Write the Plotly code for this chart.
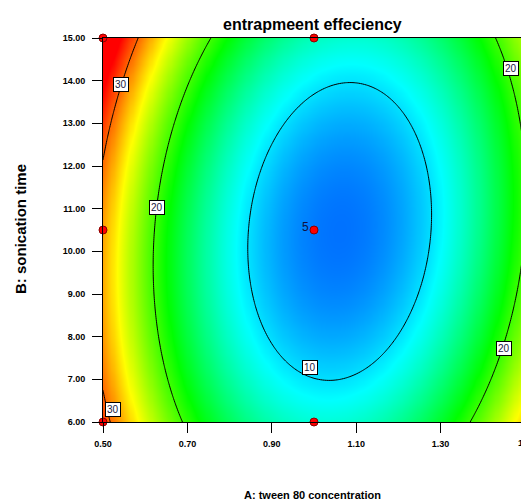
import numpy as np
import plotly.graph_objects as go

# Factor A: tween 80 concentration (0.50 - 1.50), factor B: sonication time (6 - 15)
a_low, a_high = 0.5, 1.5
b_low, b_high = 6.0, 15.0

# Quadratic response-surface coefficients (coded units)
coef_names = ["Intercept", "A", "B", "AB", "A^2", "B^2"]
coef_vals = [7.049, -4.183, 0.349, -2.185, 17.122, 5.400]

# Design points (3x3 factorial) and replicates at the centre
design_a = [0.5, 1.0, 1.5, 0.5, 1.0, 1.5, 0.5, 1.0, 1.5]
design_b = [6.0, 6.0, 6.0, 10.5, 10.5, 10.5, 15.0, 15.0, 15.0]
center_reps = "5"

# Contour levels and ticks
levels = [10, 20, 30]
x_ticks = [0.5, 0.7, 0.9, 1.1, 1.3]
y_ticks = [6, 7, 8, 9, 10, 11, 12, 13, 14, 15]

title_text = "entrapmeent effeciency"
x_title = "A: tween 80 concentration"
y_title = "B: sonication time"

b0, b1, b2, b12, b11, b22 = coef_vals
a_mid, a_half = (a_low + a_high) / 2, (a_high - a_low) / 2
b_mid, b_half = (b_low + b_high) / 2, (b_high - b_low) / 2


def response(x, y):
    A = (x - a_mid) / a_half
    B = (y - b_mid) / b_half
    return b0 + b1 * A + b2 * B + b12 * A * B + b11 * A**2 + b22 * B**2


def x_on_level(level, y, side):
    B = (y - b_mid) / b_half
    r = np.roots([b11, b1 + b12 * B, b0 + b2 * B + b22 * B**2 - level])
    r = np.sort(np.real(r))
    return a_mid + a_half * (r[0] if side == "left" else r[-1])


def y_on_level(level, x, side):
    A = (x - a_mid) / a_half
    r = np.roots([b22, b2 + b12 * A, b0 + b1 * A + b11 * A**2 - level])
    r = np.sort(np.real(r))
    return b_mid + b_half * (r[0] if side == "low" else r[-1])


xs = np.linspace(a_low, a_high, 201)
ys = np.linspace(b_low, b_high, 181)
XX, YY = np.meshgrid(xs, ys)
Z = response(XX, YY)

cs = [[0, "rgb(0,0,255)"], [0.25, "rgb(0,255,255)"], [0.5, "rgb(0,255,0)"],
      [0.75, "rgb(255,255,0)"], [1, "rgb(255,0,0)"]]

fig = go.Figure()
fig.add_trace(go.Contour(x=xs, y=ys, z=Z, colorscale=cs, zmin=3.5, zmax=33,
                         contours=dict(start=levels[0], end=levels[-1], size=10, coloring="heatmap"),
                         line=dict(color="black", width=1), showscale=False, hoverinfo="skip"))
fig.add_trace(go.Scatter(x=design_a, y=design_b, mode="markers", cliponaxis=False,
                         marker=dict(color="red", size=8, line=dict(color="#8b0000", width=1)),
                         showlegend=False))

NARROW = "Liberation Sans Narrow, Arial Narrow, Liberation Sans, Arial, sans-serif"

# contour labels (boxed, like the original software)
label_specs = [
    (30, x_on_level(30, 13.9, "left"), 13.9, 0, 0),
    (30, x_on_level(30, 6.3, "left"), 6.3, 6, 0),
    (20, x_on_level(20, 11.03, "left"), 11.03, 0, 0),
    (10, 0.99, y_on_level(10, 0.99, "low"), 0, 9),
    (20, x_on_level(20, 14.29, "right"), 14.29, 4, 0),
    (20, x_on_level(20, 7.73, "right"), 7.73, 2, 0),
]
for lev, lx, ly, xs_, ys_ in label_specs:
    fig.add_annotation(x=lx, y=ly, text=str(lev), showarrow=False, xshift=xs_, yshift=ys_,
                       font=dict(family=NARROW, size=10, color="#202040"),
                       bgcolor="white", bordercolor="black", borderwidth=1, borderpad=1)

fig.add_annotation(x=design_a[4], y=design_b[4], text=center_reps, showarrow=False,
                   xshift=-9, yshift=3, font=dict(family=NARROW, size=12, color="#101040"))

fig.add_annotation(text=title_text, xref="paper", yref="paper", x=0.5, y=1.036,
                   showarrow=False, yanchor="middle",
                   font=dict(family=NARROW, size=16, color="black", weight="bold"))
fig.add_annotation(text=x_title, xref="paper", yref="paper", x=0.5, y=-0.19,
                   showarrow=False, yanchor="middle",
                   font=dict(family=NARROW, size=11, color="black", weight="bold"))
fig.add_annotation(text=y_title, xref="paper", yref="paper", x=-0.1986, y=0.5026,
                   showarrow=False, textangle=-90, xanchor="center", yanchor="middle",
                   font=dict(family=NARROW, size=15, color="black", weight="bold"))
# partially visible last x tick label (cut by the window edge)
fig.add_annotation(text="1.50", xref="paper", x=(516 - 103) / 418, xanchor="left",
                   yref="paper", y=-0.055, showarrow=False, yanchor="middle",
                   font=dict(family=NARROW, size=9, color="black", weight="bold"))

fig.update_layout(width=521, height=503, margin=dict(l=103, r=0, t=38, b=81),
                  plot_bgcolor="white", paper_bgcolor="white", showlegend=False)
fig.update_xaxes(range=[a_low, a_low + 418 / 422 * (a_high - a_low)], tickvals=x_ticks,
                 tickformat=".2f", ticks="outside", ticklen=10, tickcolor="black",
                 ticklabelstandoff=3,
                 showline=True, linecolor="black", linewidth=1, mirror=True,
                 showgrid=False, zeroline=False,
                 tickfont=dict(family=NARROW, size=9, color="black", weight="bold"))
fig.update_yaxes(range=[b_low, b_high], tickvals=y_ticks, tickformat=".2f",
                 ticks="outside", ticklen=10, tickcolor="black",
                 ticklabelstandoff=5,
                 showline=True, linecolor="black", linewidth=1, mirror=False,
                 showgrid=False, zeroline=False,
                 tickfont=dict(family=NARROW, size=9, color="black", weight="bold"))
fig.write_html("out.html", config={"displayModeBar": False},
               post_script="document.body.style.margin='0';")
